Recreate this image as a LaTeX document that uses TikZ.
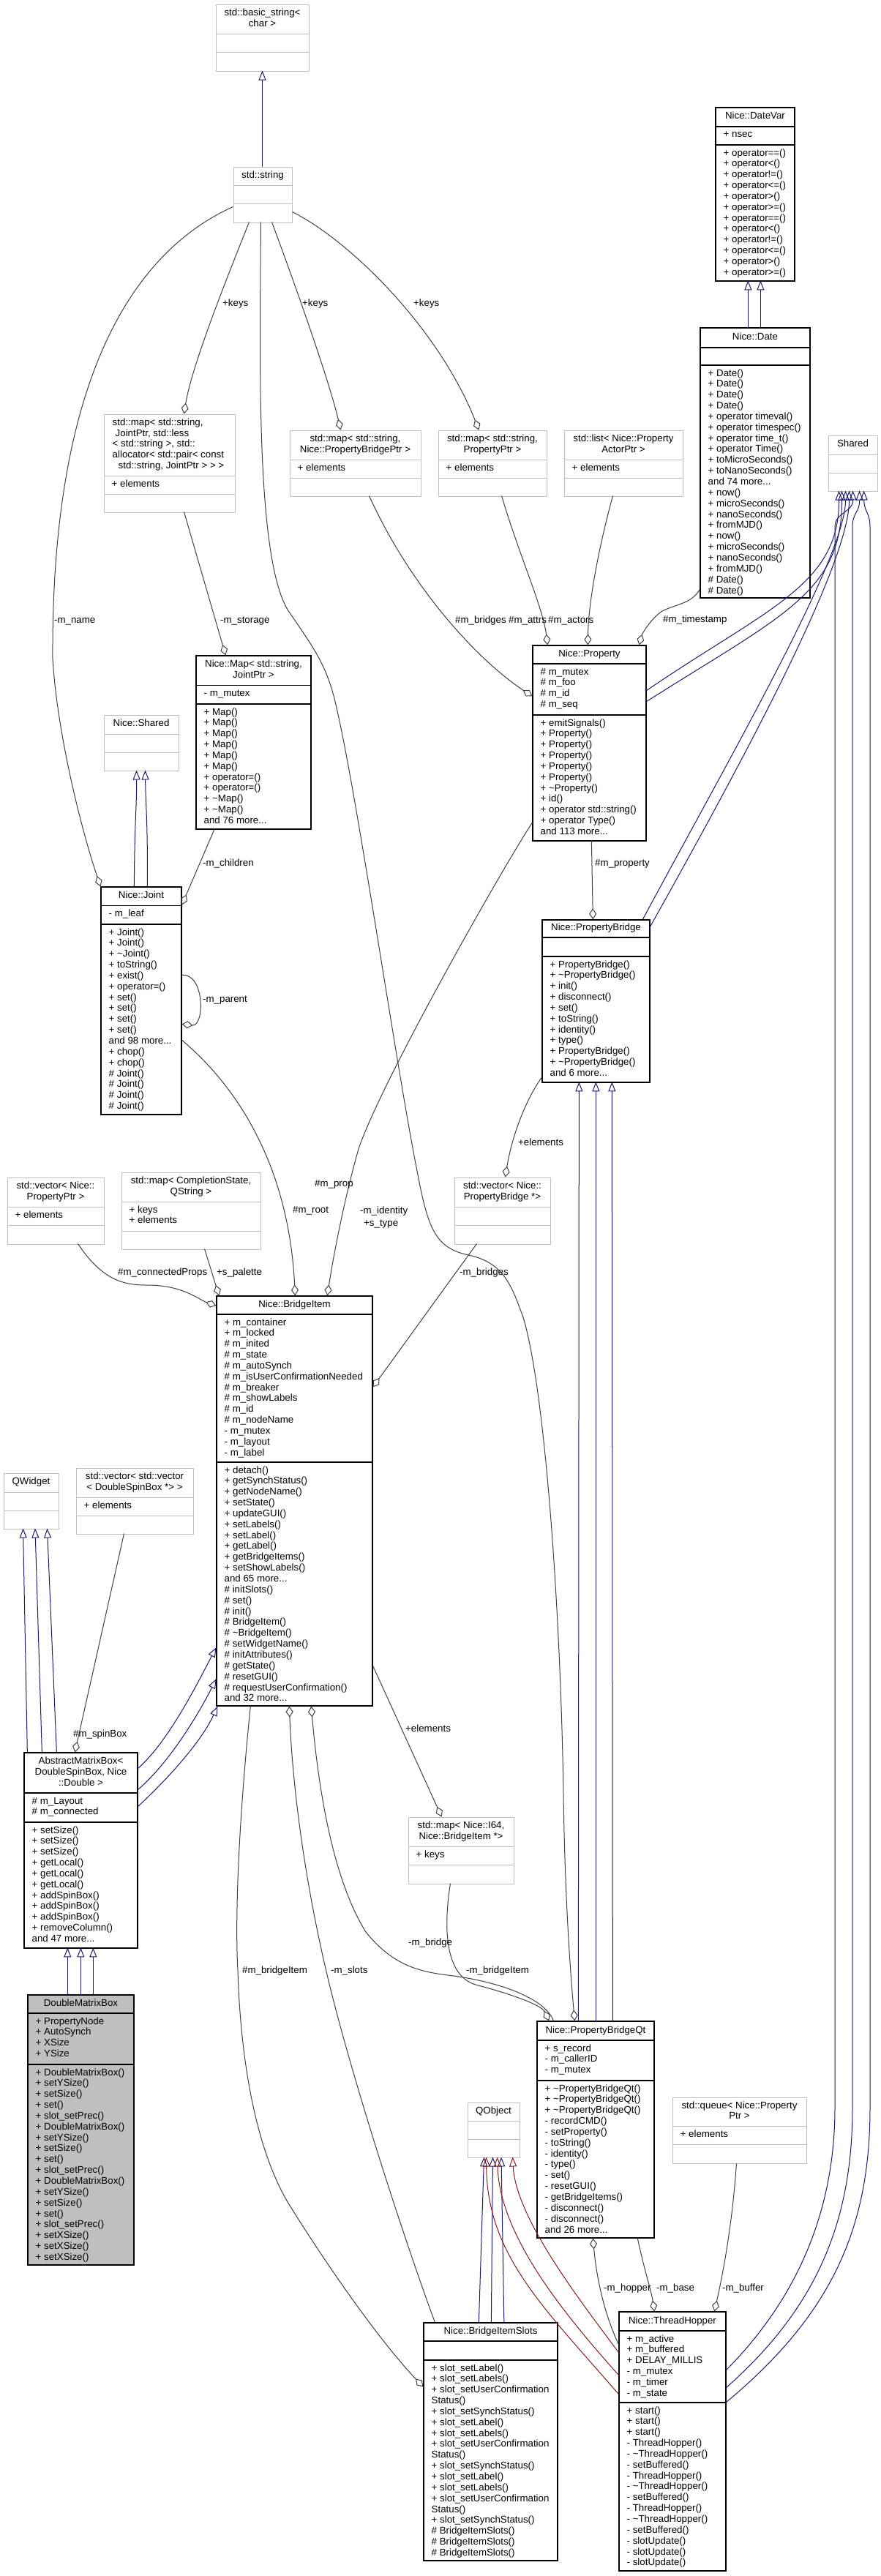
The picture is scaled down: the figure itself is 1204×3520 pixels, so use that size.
\documentclass[tikz,border=0pt]{standalone}
\usepackage{fontspec}
\setmainfont{Liberation Sans}
\usetikzlibrary{arrows.meta,fit,calc}
\definecolor{extc}{HTML}{BFBFBF}
\definecolor{usec}{HTML}{404040}
\definecolor{inhc}{HTML}{191970}
\definecolor{privc}{HTML}{8B1A1A}
\definecolor{fillc}{HTML}{BFBFBF}
\newcommand\dxf{\fontsize{13.3}{14.85}\selectfont}
\newcommand\umlbox[9]{%
  \node[#2, fit={(#3,#4) (#5,#6)}, inner sep=0pt] (#1) {};
  \draw[#2sep] (#3,#7) -- (#5,#7);
  \draw[#2sep] (#3,#8) -- (#5,#8);
  \node[ttl] (#1-t) at ({(#3+#5)/2},{(#4+#7)/2}) {\strut #9\strut};
}
\newcommand\umltxt[4]{\node[lst] (#1) at ({#2+10.5},{#3+4.4}) {\strut #4};}
\tikzset{
  ext/.style={draw=extc, line width=1pt, fill=white},
  extsep/.style={draw=extc, line width=1pt},
  doc/.style={draw=black, line width=1.3pt, fill=white},
  docsep/.style={draw=black, line width=1.3pt},
  dmx/.style={draw=black, line width=1.3pt, fill=fillc},
  dmxsep/.style={draw=black, line width=1.3pt},
  ttl/.style={font=\dxf, inner sep=0pt, align=center},
  lst/.style={font=\dxf, inner sep=0pt, align=left, anchor=north west},
  elabs/.style={font=\dxf, inner sep=0pt, anchor=west, text height=9.6pt, text depth=2.8pt},
  inh/.style={draw=inhc, line width=1pt, -{Triangle[open,length=13pt,width=10pt]}},
  prv/.style={draw=privc, line width=1pt, -{Triangle[open,length=13pt,width=10pt]}},
  use/.style={draw=usec, line width=1pt, -{Diamond[open,length=15pt,width=10pt]}},
}
\begin{document}
\begin{tikzpicture}[x=1pt,y=-1pt]
\fill[white] (0,0) rectangle (1204,3520);
\useasboundingbox (0,0) rectangle (1204,3520);

% ---------------- boxes ----------------
\umlbox{bs}{ext}{295}{6}{422}{97}{46}{71}{std::basic\_string<\\char >}
\umlbox{str}{ext}{319}{228}{399}{304}{253}{278}{std::string}

\umlbox{dv}{doc}{978}{147}{1086}{384}{173}{198}{Nice::DateVar}
\umltxt{dv-a}{978}{173}{+ nsec}
\umltxt{dv-m}{978}{198}{+ operator==()\\+ operator<()\\+ operator!=()\\+ operator<=()\\+ operator>()\\+ operator>=()\\+ operator==()\\+ operator<()\\+ operator!=()\\+ operator<=()\\+ operator>()\\+ operator>=()}

\umlbox{date}{doc}{957}{448}{1107}{817}{475}{499}{Nice::Date}
\umltxt{date-m}{957}{499}{+ Date()\\+ Date()\\+ Date()\\+ Date()\\+ operator timeval()\\+ operator timespec()\\+ operator time\_t()\\+ operator Time()\\+ toMicroSeconds()\\+ toNanoSeconds()\\and 74 more...\\+ now()\\+ microSeconds()\\+ nanoSeconds()\\+ fromMJD()\\+ now()\\+ microSeconds()\\+ nanoSeconds()\\+ fromMJD()\\\# Date()\\\# Date()}

\umlbox{shr}{ext}{1132}{595}{1199}{671}{621}{646}{Shared}

\node[ext, fit={(142,566) (321,700)}, inner sep=0pt] (mj) {};
\draw[extsep] (142,650) -- (321,650);
\draw[extsep] (142,675) -- (321,675);
\node[ttl, align=left] (mj-t) at (230,608) {\strut std::map< std::string,\\\hspace{4pt}JointPtr, std::less\\< std::string >, std::\\allocator< std::pair< const\\\hspace{8pt}std::string, JointPtr > > >\strut};
\umltxt{mj-a}{142}{650}{+ elements}

\umlbox{mpb}{ext}{396}{588}{575}{678}{628}{653}{std::map< std::string,\\Nice::PropertyBridgePtr >}
\umltxt{mpb-a}{396}{628}{+ elements}
\umlbox{mpp}{ext}{599}{588}{747}{678}{628}{653}{std::map< std::string,\\PropertyPtr >}
\umltxt{mpp-a}{599}{628}{+ elements}
\umlbox{lst}{ext}{771}{588}{933}{678}{628}{653}{std::list< Nice::Property\\ActorPtr >}
\umltxt{lst-a}{771}{628}{+ elements}

\umlbox{map}{doc}{268}{896}{425}{1133}{936.6}{962}{Nice::Map< std::string,\\JointPtr >}
\umltxt{map-a}{268}{936.6}{- m\_mutex}
\umltxt{map-m}{268}{962}{+ Map()\\+ Map()\\+ Map()\\+ Map()\\+ Map()\\+ Map()\\+ operator=()\\+ operator=()\\+ \textasciitilde Map()\\+ \textasciitilde Map()\\and 76 more...}

\umlbox{nsh}{ext}{142}{977}{244}{1053}{1003}{1028}{Nice::Shared}
\umlbox{joint}{doc}{138}{1212}{248}{1523}{1237.5}{1263}{Nice::Joint}
\umltxt{joint-a}{138}{1237.5}{- m\_leaf}
\umltxt{joint-m}{138}{1263}{+ Joint()\\+ Joint()\\+ \textasciitilde Joint()\\+ toString()\\+ exist()\\+ operator=()\\+ set()\\+ set()\\+ set()\\+ set()\\and 98 more...\\+ chop()\\+ chop()\\\# Joint()\\\# Joint()\\\# Joint()\\\# Joint()}

\umlbox{prop}{doc}{728}{882}{883}{1149}{907}{977}{Nice::Property}
\umltxt{prop-a}{728}{907}{\# m\_mutex\\\# m\_foo\\\# m\_id\\\# m\_seq}
\umltxt{prop-m}{728}{977}{+ emitSignals()\\+ Property()\\+ Property()\\+ Property()\\+ Property()\\+ Property()\\+ \textasciitilde Property()\\+ id()\\+ operator std::string()\\+ operator Type()\\and 113 more...}

\umlbox{pb}{doc}{741}{1257}{888}{1479}{1281}{1307}{Nice::PropertyBridge}
\umltxt{pb-m}{741}{1307}{+ PropertyBridge()\\+ \textasciitilde PropertyBridge()\\+ init()\\+ disconnect()\\+ set()\\+ toString()\\+ identity()\\+ type()\\+ PropertyBridge()\\+ \textasciitilde PropertyBridge()\\and 6 more...}

\umlbox{vpb}{ext}{621}{1609}{752}{1700}{1649}{1674}{std::vector< Nice::\\PropertyBridge *>}
\umlbox{vpp}{ext}{10}{1609}{142}{1700}{1649}{1674}{std::vector< Nice::\\PropertyPtr >}
\umltxt{vpp-a}{10}{1649}{+ elements}
\umlbox{mcs}{ext}{166}{1602}{356}{1707}{1642}{1682}{std::map< CompletionState,\\QString >}
\umltxt{mcs-a}{166}{1642}{+ keys\\+ elements}

\umlbox{bi}{doc}{296}{1771}{509}{2331}{1796}{1998}{Nice::BridgeItem}
\umltxt{bi-a}{296}{1796}{+ m\_container\\+ m\_locked\\\# m\_inited\\\# m\_state\\\# m\_autoSynch\\\# m\_isUserConfirmationNeeded\\\# m\_breaker\\\# m\_showLabels\\\# m\_id\\\# m\_nodeName\\- m\_mutex\\- m\_layout\\- m\_label}
\umltxt{bi-m}{296}{1998}{+ detach()\\+ getSynchStatus()\\+ getNodeName()\\+ setState()\\+ updateGUI()\\+ setLabels()\\+ setLabel()\\+ getLabel()\\+ getBridgeItems()\\+ setShowLabels()\\and 65 more...\\\# initSlots()\\\# set()\\\# init()\\\# BridgeItem()\\\# \textasciitilde BridgeItem()\\\# setWidgetName()\\\# initAttributes()\\\# getState()\\\# resetGUI()\\\# requestUserConfirmation()\\and 32 more...}

\umlbox{qw}{ext}{5}{2013}{80}{2089}{2039}{2064}{QWidget}
\umlbox{vsb}{ext}{104}{2006}{264}{2096}{2046}{2071}{std::vector< std::vector\\< DoubleSpinBox *> >}
\umltxt{vsb-a}{104}{2046}{+ elements}

\umlbox{amb}{doc}{33}{2395}{188}{2662}{2450}{2490}{AbstractMatrixBox<\\DoubleSpinBox, Nice\\::Double >}
\umltxt{amb-a}{33}{2450}{\# m\_Layout\\\# m\_connected}
\umltxt{amb-m}{33}{2490}{+ setSize()\\+ setSize()\\+ setSize()\\+ getLocal()\\+ getLocal()\\+ getLocal()\\+ addSpinBox()\\+ addSpinBox()\\+ addSpinBox()\\+ removeColumn()\\and 47 more...}

\umlbox{dmb}{dmx}{38}{2726}{183}{3095}{2751}{2821}{DoubleMatrixBox}
\umltxt{dmb-a}{38}{2751}{+ PropertyNode\\+ AutoSynch\\+ XSize\\+ YSize}
\umltxt{dmb-m}{38}{2821}{+ DoubleMatrixBox()\\+ setYSize()\\+ setSize()\\+ set()\\+ slot\_setPrec()\\+ DoubleMatrixBox()\\+ setYSize()\\+ setSize()\\+ set()\\+ slot\_setPrec()\\+ DoubleMatrixBox()\\+ setYSize()\\+ setSize()\\+ set()\\+ slot\_setPrec()\\+ setXSize()\\+ setXSize()\\+ setXSize()}

\umlbox{mi64}{ext}{558}{2483}{702}{2574}{2523}{2548}{std::map< Nice::I64,\\Nice::BridgeItem *>}
\umltxt{mi64-a}{558}{2523}{+ keys}

\umlbox{pbq}{doc}{734}{2762}{894}{3058}{2788}{2843}{Nice::PropertyBridgeQt}
\umltxt{pbq-a}{734}{2788}{+ s\_record\\- m\_callerID\\- m\_mutex}
\umltxt{pbq-m}{734}{2843}{+ \textasciitilde PropertyBridgeQt()\\+ \textasciitilde PropertyBridgeQt()\\+ \textasciitilde PropertyBridgeQt()\\- recordCMD()\\- setProperty()\\- toString()\\- identity()\\- type()\\- set()\\- resetGUI()\\- getBridgeItems()\\- disconnect()\\- disconnect()\\and 26 more...}

\umlbox{qo}{ext}{639}{2873}{710}{2948}{2898}{2923}{QObject}
\umlbox{que}{ext}{919}{2866}{1102}{2956}{2905}{2930}{std::queue< Nice::Property\\Ptr >}
\umltxt{que-a}{919}{2905}{+ elements}

\umlbox{bis}{doc}{579}{3174}{762}{3499}{3199}{3225}{Nice::BridgeItemSlots}
\umltxt{bis-m}{579}{3225}{+ slot\_setLabel()\\+ slot\_setLabels()\\+ slot\_setUserConfirmation\\Status()\\+ slot\_setSynchStatus()\\+ slot\_setLabel()\\+ slot\_setLabels()\\+ slot\_setUserConfirmation\\Status()\\+ slot\_setSynchStatus()\\+ slot\_setLabel()\\+ slot\_setLabels()\\+ slot\_setUserConfirmation\\Status()\\+ slot\_setSynchStatus()\\\# BridgeItemSlots()\\\# BridgeItemSlots()\\\# BridgeItemSlots()}

\umlbox{th}{doc}{846}{3159}{992}{3513}{3185}{3283}{Nice::ThreadHopper}
\umltxt{th-a}{846}{3185}{+ m\_active\\+ m\_buffered\\+ DELAY\_MILLIS\\- m\_mutex\\- m\_timer\\- m\_state}
\umltxt{th-m}{846}{3283}{+ start()\\+ start()\\+ start()\\- ThreadHopper()\\- \textasciitilde ThreadHopper()\\- setBuffered()\\- ThreadHopper()\\- \textasciitilde ThreadHopper()\\- setBuffered()\\- ThreadHopper()\\- \textasciitilde ThreadHopper()\\- setBuffered()\\- slotUpdate()\\- slotUpdate()\\- slotUpdate()}

% ---------------- inheritance ----------------
\draw[inh] ($(str.north west)+(40,0)$) -- ($(bs.north west)+(64,91)$);
\draw[inh] ($(date.north west)+(66,0)$) -- ($(dv.north west)+(45,237)$);
\draw[inh] ($(date.north west)+(83,0)$) -- ($(dv.north west)+(62,237)$);
\draw[inh] ($(joint.north west)+(46,0)$) .. controls (184,1120) and (187,1100) .. ($(nsh.north west)+(45,76)$);
\draw[inh] ($(joint.north west)+(64,0)$) .. controls (202,1120) and (199,1100) .. ($(nsh.north west)+(57,76)$);
\draw[inh] ($(prop.north west)+(155,63)$) .. controls (1050,830) and (1147,800) .. ($(shr.north west)+(15,76)$);
\draw[inh] ($(prop.north west)+(155,78)$) .. controls (1070,840) and (1151,810) .. ($(shr.north west)+(19,76)$);
\draw[inh] ($(pb.north west)+(138,0)$) .. controls (1000,1030) and (1156,760) .. ($(shr.north west)+(24,76)$);
\draw[inh] ($(pb.north west)+(147,12)$) .. controls (1015,1040) and (1161,770) .. ($(shr.north west)+(29,76)$);
\draw[inh] ($(th.north east)+(0,80)$) .. controls (1090,3140) and (1141,3020) .. (1141,2880) -- (1141,720) .. controls (1141,700) and (1166,700) .. ($(shr.north west)+(34,76)$);
\draw[inh] ($(th.north east)+(0,104)$) .. controls (1120,3150) and (1165,3030) .. (1165,2880) -- (1165,720) .. controls (1165,700) and (1175,700) .. ($(shr.north west)+(43,76)$);
\draw[inh] ($(th.north east)+(0,124)$) .. controls (1140,3160) and (1189,3040) .. (1189,2880) -- (1189,720) .. controls (1189,700) and (1181,700) .. ($(shr.north west)+(49,76)$);
\draw[inh] ($(pbq.north west)+(57,0)$) -- ($(pb.north west)+(51,222)$);
\draw[inh] ($(pbq.north west)+(81,0)$) -- ($(pb.north west)+(74,222)$);
\draw[inh] ($(pbq.north west)+(104,0)$) -- ($(pb.north west)+(96,222)$);
\draw[inh] ($(amb.north west)+(5,0)$) -- ($(qw.north west)+(27,76)$);
\draw[inh] ($(amb.north west)+(25,0)$) -- ($(qw.north west)+(43.5,76)$);
\draw[inh] ($(amb.north west)+(45,0)$) -- ($(qw.north west)+(60,76)$);
\draw[inh] ($(amb.north east)+(0,22)$) .. controls (230,2380) and (270,2300) .. ($(bi.north west)+(0,481)$);
\draw[inh] ($(amb.north east)+(0,51)$) .. controls (230,2410) and (270,2345) .. ($(bi.north west)+(0,524)$);
\draw[inh] ($(amb.north east)+(0,74)$) .. controls (230,2430) and (275,2380) .. ($(bi.south west)+(2,0)$);
\draw[inh] ($(dmb.north west)+(55,0)$) -- ($(amb.north west)+(60,267)$);
\draw[inh] ($(dmb.north west)+(73,0)$) -- ($(amb.north west)+(78,267)$);
\draw[inh] ($(dmb.north west)+(90,0)$) -- ($(amb.north west)+(95,267)$);
\draw[inh] ($(bis.north west)+(76,0)$) -- ($(qo.north west)+(23,75)$);
\draw[inh] ($(bis.north west)+(93,0)$) -- ($(qo.north west)+(35,75)$);
\draw[inh] ($(bis.north west)+(110.5,0)$) -- ($(qo.north west)+(46.5,75)$);
\draw[prv] ($(th.north west)+(0,56)$) .. controls (790,3140) and (705,3030) .. ($(qo.north west)+(62,75)$);
\draw[prv] ($(th.north west)+(0,87)$) .. controls (760,3150) and (683,3050) .. ($(qo.north west)+(41,75)$);
\draw[prv] ($(th.north west)+(0,113)$) .. controls (740,3150) and (666,3080) .. ($(qo.north west)+(26,75)$);

% ---------------- usage ----------------
\draw[use] ($(str.north west)+(22,76)$) .. controls (310,380) and (262,500) .. ($(mj.north west)+(110,0)$);
\draw[use] ($(str.north west)+(53,76)$) .. controls (400,380) and (450,520) .. ($(mpb.north west)+(70,0)$);
\draw[use] ($(str.north east)+(0,62)$) .. controls (480,330) and (600,450) .. ($(mpp.north west)+(56,0)$);
\draw[use] ($(str.north west)+(0,55)$) .. controls (180,345) and (70,520) .. (72,900) .. controls (78,1000) and (110,1130) .. (joint.north west);
\draw[use] ($(str.north west)+(38,76)$) .. controls (355,500) and (350,760) .. (393,833) .. controls (425,880) and (440,900) .. (453,940) .. controls (480,1030) and (540,1450) .. (570,1600) .. controls (585,1680) and (595,1705) .. (640,1715) .. controls (690,1725) and (700,1760) .. (715,1800) .. controls (745,1900) and (766,2200) .. (770,2450) .. controls (772,2600) and (780,2700) .. ($(pbq.north west)+(52,0)$);
\draw[use] ($(mj.north west)+(110,134)$) -- ($(map.north west)+(41,0)$);
\draw[use] ($(map.north west)+(26,237)$) -- ($(joint.north east)+(0,25)$);
\draw[use] ($(joint.north east)+(0,121)$) .. controls (280,1330) and (280,1403) .. ($(joint.north east)+(0,188)$);
\draw[use] ($(joint.north east)+(0,210)$) .. controls (330,1490) and (395,1600) .. ($(bi.north west)+(108,0)$);
\draw[use] ($(prop.north west)+(0,243)$) .. controls (690,1180) and (520,1480) .. (490,1570) .. controls (470,1640) and (455,1720) .. ($(bi.north west)+(152,0)$);
\draw[use] ($(mpb.north west)+(109,90)$) .. controls (560,800) and (650,900) .. ($(prop.north west)+(0,70)$);
\draw[use] ($(mpp.north west)+(87,90)$) .. controls (710,760) and (742,830) .. ($(prop.north west)+(21,0)$);
\draw[use] ($(lst.north west)+(67,90)$) .. controls (815,760) and (804,830) .. ($(prop.north west)+(76,0)$);
\draw[use] ($(date.north west)+(0,358)$) .. controls (945,825) and (925,825) .. (905,835) .. controls (890,845) and (878,865) .. ($(prop.north west)+(146,0)$);
\draw[use] ($(prop.north west)+(81,267)$) -- ($(pb.north west)+(70,0)$);
\draw[use] ($(pb.north west)+(0,216)$) .. controls (720,1500) and (700,1550) .. ($(vpb.north west)+(70,0)$);
\draw[use] ($(vpb.north west)+(31,91)$) -- ($(bi.north east)+(0,125)$);
\draw[use] ($(vpp.north west)+(97,91)$) .. controls (140,1750) and (170,1756) .. (200,1756) .. controls (250,1756) and (270,1775) .. ($(bi.north west)+(0,14)$);
\draw[use] ($(mcs.north west)+(114,105)$) -- ($(bi.north west)+(4,0)$);
\draw[use] ($(vsb.north west)+(66,90)$) -- ($(amb.north west)+(70,0)$);
\draw[use] ($(bi.north east)+(0,506)$) -- ($(mi64.north west)+(46,0)$);
\draw[use] ($(mi64.north west)+(58,91)$) .. controls (605,2640) and (610,2700) .. (650,2712) .. controls (700,2725) and (740,2740) .. ($(pbq.north west)+(17,0)$);
\draw[use] ($(pbq.north west)+(23,0)$) .. controls (745,2730) and (680,2708) .. (620,2700) .. controls (580,2695) and (540,2690) .. (500,2640) .. controls (450,2560) and (433,2420) .. ($(bi.south west)+(130,0)$);
\draw[use] ($(bis.north west)+(16,0)$) .. controls (560,3080) and (500,2900) .. (460,2750) .. controls (420,2600) and (400,2450) .. ($(bi.south west)+(100,0)$);
\draw[use] ($(bi.south west)+(47,0)$) .. controls (330,2450) and (320,2600) .. (325,2693) .. controls (330,2850) and (360,2960) .. (400,3020) .. controls (450,3100) and (520,3200) .. ($(bis.north west)+(0,88)$);
\draw[use] ($(th.north west)+(0,45)$) .. controls (825,3160) and (815,3110) .. ($(pbq.south west)+(77,0)$);
\draw[use] ($(pbq.south west)+(138,0)$) .. controls (880,3100) and (890,3130) .. ($(th.north west)+(49,0)$);
\draw[use] ($(que.south west)+(88,0)$) .. controls (1000,3050) and (985,3120) .. ($(th.north west)+(131,0)$);

% ---------------- edge labels ----------------
\node[elabs] (l-k1) at (304,415) {+keys};
\node[elabs] (l-k2) at (413,415) {+keys};
\node[elabs] (l-k3) at (565,415) {+keys};
\node[elabs] (l-name) at (74,848) {-m\_name};
\node[elabs] (l-stor) at (301,848) {-m\_storage};
\node[elabs] (l-brs) at (622,848) {\#m\_bridges};
\node[elabs] (l-attrs) at (695,848) {\#m\_attrs};
\node[elabs] (l-act) at (749,848) {\#m\_actors};
\node[elabs] (l-ts) at (906,847) {\#m\_timestamp};
\node[elabs] (l-chl) at (277,1180) {-m\_children};
\node[elabs] (l-par) at (277,1366) {-m\_parent};
\node[elabs] (l-prp) at (813,1180) {\#m\_property};
\node[elabs] (l-el1) at (708,1562) {+elements};
\node[elabs] (l-mprop) at (430,1618) {\#m\_prop};
\node[elabs] (l-idn) at (492,1655) {-m\_identity};
\node[elabs] (l-styp) at (497,1672) {+s\_type};
\node[elabs] (l-root) at (400,1654) {\#m\_root};
\node[elabs] (l-cp) at (161,1739) {\#m\_connectedProps};
\node[elabs] (l-pal) at (296,1739) {+s\_palette};
\node[elabs] (l-brg) at (628,1739) {-m\_bridges};
\node[elabs] (l-el2) at (554,2363) {+elements};
\node[elabs] (l-spin) at (100,2370) {\#m\_spinBox};
\node[elabs] (l-bit) at (331,2693) {\#m\_bridgeItem};
\node[elabs] (l-slots) at (452,2693) {-m\_slots};
\node[elabs] (l-bridge) at (558,2655) {-m\_bridge};
\node[elabs] (l-bit2) at (637,2693) {-m\_bridgeItem};
\node[elabs] (l-hop) at (825,3127) {-m\_hopper};
\node[elabs] (l-base) at (897,3127) {-m\_base};
\node[elabs] (l-buf) at (987,3127) {-m\_buffer};
\end{tikzpicture}
\end{document}
